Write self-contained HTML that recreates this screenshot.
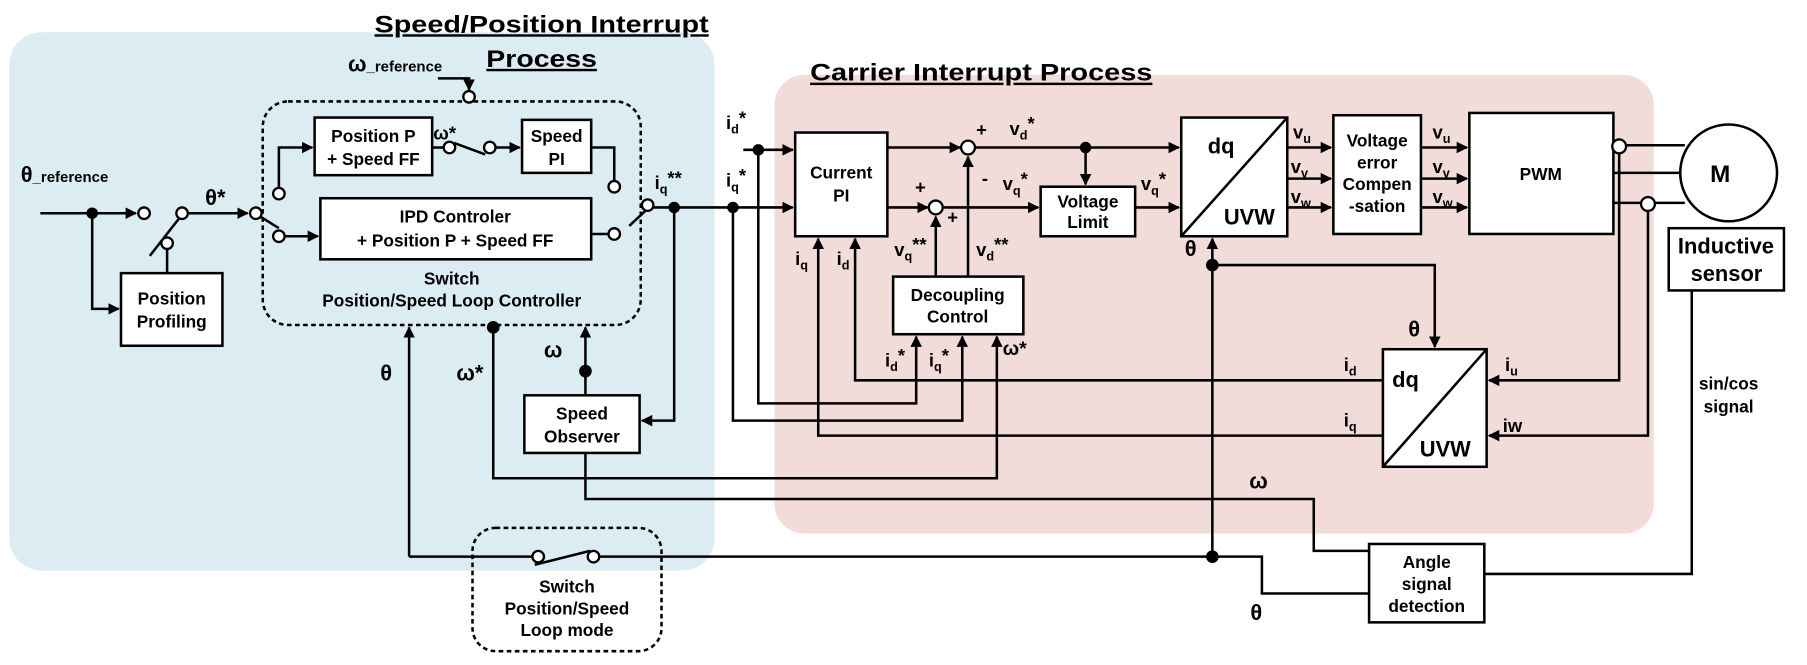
<!DOCTYPE html>
<html><head><meta charset="utf-8"><style>
html,body{margin:0;padding:0;background:#fff;}
svg{display:block;}
text{font-family:"Liberation Sans",sans-serif;font-weight:bold;fill:#000;}
</style></head><body>
<svg width="1807" height="665" viewBox="0 0 1568 577" preserveAspectRatio="none" xmlns="http://www.w3.org/2000/svg">
<defs>
<marker id="a" markerWidth="10" markerHeight="10" refX="9" refY="5" orient="auto" markerUnits="userSpaceOnUse"><path d="M0,0 L10,5 L0,10 Z" fill="#000"/></marker>
</defs>
<!-- backgrounds -->
<rect x="8" y="28" width="612" height="467" rx="28" fill="#dbecf2"/>
<rect x="672" y="65" width="763" height="398" rx="26" fill="#f2dcda"/>
<!-- titles -->
<text x="325" y="28" font-size="21" textLength="290" lengthAdjust="spacingAndGlyphs" text-decoration="underline">Speed/Position Interrupt</text>
<text x="422" y="58" font-size="21" textLength="96" lengthAdjust="spacingAndGlyphs" text-decoration="underline">Process</text>
<text x="703" y="70" font-size="21" textLength="297" lengthAdjust="spacingAndGlyphs" text-decoration="underline">Carrier Interrupt Process</text>

<g stroke="#000" stroke-width="2.2" fill="none">
<!-- dashed boxes -->
<rect x="228" y="88" width="328" height="194" rx="22" stroke-dasharray="4,3"/>
<rect x="410" y="458" width="164" height="107" rx="20" stroke-dasharray="4,3"/>
<!-- blocks -->
<rect x="105" y="237" width="88" height="63" fill="#fff"/>
<rect x="273" y="102" width="102" height="50" fill="#fff"/>
<rect x="453" y="104" width="60" height="46" fill="#fff"/>
<rect x="278" y="172" width="235" height="53" fill="#fff"/>
<rect x="455" y="343" width="100" height="50" fill="#fff"/>
<rect x="690" y="115" width="80" height="90" fill="#fff"/>
<rect x="903" y="162" width="82" height="43" fill="#fff"/>
<rect x="775" y="240" width="113" height="50" fill="#fff"/>
<rect x="1025" y="102" width="92" height="103" fill="#fff"/>
<line x1="1025" y1="205" x2="1117" y2="102"/>
<rect x="1157" y="100" width="76" height="103" fill="#fff"/>
<rect x="1275" y="98" width="125" height="105" fill="#fff"/>
<circle cx="1500" cy="150" r="42" fill="#fff"/>
<rect x="1448" y="198" width="100" height="54" fill="#fff"/>
<rect x="1200" y="303" width="90" height="102" fill="#fff"/>
<line x1="1200" y1="405" x2="1290" y2="303"/>
<rect x="1188" y="472" width="100" height="68" fill="#fff"/>

<!-- theta ref input -->
<line x1="35" y1="185" x2="118" y2="185" marker-end="url(#a)"/>
<polyline points="80,185 80,268 103,268" marker-end="url(#a)"/>
<line x1="145" y1="237" x2="145" y2="216"/>
<line x1="130" y1="222" x2="155" y2="190"/>
<line x1="164" y1="185" x2="215" y2="185" marker-end="url(#a)"/>
<line x1="226" y1="188" x2="242" y2="198"/>
<polyline points="242,163 242,128 271,128" marker-end="url(#a)"/>
<line x1="247" y1="205" x2="276" y2="205" marker-end="url(#a)"/>
<line x1="375" y1="128" x2="385" y2="128"/>
<line x1="394" y1="124" x2="421" y2="134"/>
<line x1="430" y1="128" x2="451" y2="128" marker-end="url(#a)"/>
<polyline points="380,68 407,68 407,78" marker-end="url(#a)"/>
<polyline points="513,128 533,128 533,157"/>
<line x1="513" y1="203" x2="528" y2="203"/>
<line x1="546" y1="196" x2="560" y2="183"/>
<line x1="567" y1="180" x2="688" y2="180" marker-end="url(#a)"/>
<polyline points="585,180 585,365 557,365" marker-end="url(#a)"/>
<line x1="645" y1="130" x2="688" y2="130" marker-end="url(#a)"/>
<!-- feedback to dashed box -->
<line x1="355" y1="483" x2="355" y2="284" marker-end="url(#a)"/>
<polyline points="355,483 462,483"/>
<line x1="464" y1="490" x2="512" y2="478"/>
<polyline points="520,483 1095,483 1095,515 1188,515"/>
<polyline points="428,283 428,415 865,415 865,292" marker-end="url(#a)"/>
<line x1="508" y1="343" x2="508" y2="284" marker-end="url(#a)"/>
<polyline points="508,393 508,433 1140,433 1140,478 1188,478"/>
<!-- current loop -->
<polyline points="658,130 658,350 795,350 795,292" marker-end="url(#a)"/>
<polyline points="636,180 636,365 835,365 835,292" marker-end="url(#a)"/>
<line x1="770" y1="128" x2="833" y2="128" marker-end="url(#a)"/>
<line x1="846" y1="128" x2="1023" y2="128" marker-end="url(#a)"/>
<line x1="942" y1="128" x2="942" y2="160" marker-end="url(#a)"/>
<line x1="770" y1="180" x2="805" y2="180" marker-end="url(#a)"/>
<line x1="818" y1="180" x2="901" y2="180" marker-end="url(#a)"/>
<line x1="985" y1="180" x2="1023" y2="180" marker-end="url(#a)"/>
<line x1="812" y1="240" x2="812" y2="188" marker-end="url(#a)"/>
<line x1="840" y1="240" x2="840" y2="136" marker-end="url(#a)"/>
<polyline points="1200,330 742,330 742,207" marker-end="url(#a)"/>
<polyline points="1200,378 710,378 710,207" marker-end="url(#a)"/>
<line x1="1117" y1="128" x2="1155" y2="128" marker-end="url(#a)"/>
<line x1="1117" y1="155" x2="1155" y2="155" marker-end="url(#a)"/>
<line x1="1117" y1="180" x2="1155" y2="180" marker-end="url(#a)"/>
<line x1="1233" y1="128" x2="1273" y2="128" marker-end="url(#a)"/>
<line x1="1233" y1="155" x2="1273" y2="155" marker-end="url(#a)"/>
<line x1="1233" y1="180" x2="1273" y2="180" marker-end="url(#a)"/>
<line x1="1400" y1="126" x2="1462" y2="126"/>
<line x1="1400" y1="150" x2="1458" y2="150"/>
<line x1="1400" y1="176" x2="1462" y2="176"/>
<polyline points="1405,132 1405,330 1292,330" marker-end="url(#a)"/>
<polyline points="1430,182 1430,378 1292,378" marker-end="url(#a)"/>
<line x1="1052" y1="483" x2="1052" y2="207" marker-end="url(#a)"/>
<polyline points="1052,230 1245,230 1245,301" marker-end="url(#a)"/>
<polyline points="1468,252 1468,498 1288,498"/>
</g>
<!-- small open circles -->
<g stroke="#000" stroke-width="2" fill="#fff">
<circle cx="125" cy="185" r="5"/><circle cx="158" cy="185" r="5"/><circle cx="145" cy="211" r="5"/>
<circle cx="222" cy="185" r="5"/><circle cx="242" cy="168" r="5"/><circle cx="242" cy="205" r="5"/>
<circle cx="390" cy="128" r="5"/><circle cx="425" cy="128" r="5"/><circle cx="407" cy="84" r="5"/>
<circle cx="533" cy="162" r="5"/><circle cx="533" cy="203" r="5"/><circle cx="562" cy="178" r="5"/>
<circle cx="467" cy="483" r="5"/><circle cx="515" cy="483" r="5"/>
<circle cx="840" cy="128" r="6"/><circle cx="812" cy="180" r="6"/>
<circle cx="1405" cy="127" r="6"/><circle cx="1430" cy="177" r="6"/>
</g>
<!-- dots -->
<g fill="#000">
<circle cx="80" cy="185" r="5"/><circle cx="585" cy="180" r="5"/><circle cx="636" cy="180" r="5"/>
<circle cx="658" cy="130" r="5"/><circle cx="942" cy="128" r="5"/><circle cx="428" cy="284" r="5.5"/>
<circle cx="508" cy="322" r="5.5"/><circle cx="1052" cy="230" r="5.5"/><circle cx="1052" cy="483" r="5.5"/>
</g>
<!-- texts -->
<g font-size="15" text-anchor="middle">
<text x="149" y="264">Position</text><text x="149" y="284">Profiling</text>
<text x="324" y="123">Position P</text><text x="324" y="143">+ Speed FF</text>
<text x="483" y="123">Speed</text><text x="483" y="143">PI</text>
<text x="395" y="193">IPD Controler</text><text x="395" y="214">+ Position P + Speed FF</text>
<text x="392" y="247">Switch</text><text x="392" y="266">Position/Speed Loop Controller</text>
<text x="505" y="364">Speed</text><text x="505" y="384">Observer</text>
<text x="730" y="155">Current</text><text x="730" y="175">PI</text>
<text x="944" y="180">Voltage</text><text x="944" y="198">Limit</text>
<text x="831" y="261">Decoupling</text><text x="831" y="280">Control</text>
<text x="1195" y="127">Voltage</text><text x="1195" y="146">error</text><text x="1195" y="165">Compen</text><text x="1195" y="184">-sation</text>
<text x="1337" y="156">PWM</text>
<text x="1238" y="493">Angle</text><text x="1238" y="512">signal</text><text x="1238" y="531">detection</text>
<text x="492" y="514">Switch</text><text x="492" y="533">Position/Speed</text><text x="492" y="552">Loop mode</text>
<text x="1500" y="338" font-weight="normal">sin/cos</text><text x="1500" y="358" font-weight="normal">signal</text>
</g>
<g font-size="19">
<text x="1048" y="133">dq</text><text x="1062" y="195">UVW</text>
<text x="1208" y="336">dq</text><text x="1232" y="396">UVW</text>
<text x="1484" y="158" font-size="21">M</text>
<text x="1456" y="220">Inductive</text><text x="1467" y="244">sensor</text>
<text x="18" y="158">θ<tspan font-size="13">_reference</tspan></text>
<text x="302" y="62">ω<tspan font-size="13">_reference</tspan></text>
<text x="178" y="178">θ*</text>
<text x="376" y="121" font-size="16">ω*</text>
<text x="568" y="164" font-size="16">i<tspan font-size="11" dy="4">q</tspan><tspan dy="-8">**</tspan></text>
<text x="630" y="112" font-size="16">i<tspan font-size="11" dy="4">d</tspan><tspan dy="-8">*</tspan></text>
<text x="630" y="162" font-size="16">i<tspan font-size="11" dy="4">q</tspan><tspan dy="-8">*</tspan></text>
<text x="330" y="330">θ</text><text x="396" y="330">ω*</text><text x="472" y="310">ω</text>
<text x="847" y="118" font-size="16">+</text><text x="876" y="117" font-size="16">v<tspan font-size="11" dy="4">d</tspan><tspan dy="-8">*</tspan></text>
<text x="794" y="168" font-size="16">+</text><text x="852" y="160" font-size="16">-</text><text x="822" y="194" font-size="16">+</text>
<text x="870" y="165" font-size="16">v<tspan font-size="11" dy="4">q</tspan><tspan dy="-8">*</tspan></text>
<text x="990" y="165" font-size="16">v<tspan font-size="11" dy="4">q</tspan><tspan dy="-8">*</tspan></text>
<text x="776" y="222" font-size="16">v<tspan font-size="11" dy="4">q</tspan><tspan dy="-8">**</tspan></text>
<text x="847" y="222" font-size="16">v<tspan font-size="11" dy="4">d</tspan><tspan dy="-8">**</tspan></text>
<text x="690" y="230" font-size="16">i<tspan font-size="11" dy="4">q</tspan></text>
<text x="726" y="230" font-size="16">i<tspan font-size="11" dy="4">d</tspan></text>
<text x="768" y="318" font-size="16">i<tspan font-size="11" dy="4">d</tspan><tspan dy="-8">*</tspan></text>
<text x="806" y="318" font-size="16">i<tspan font-size="11" dy="4">q</tspan><tspan dy="-8">*</tspan></text>
<text x="870" y="308" font-size="17">ω*</text>
<text x="1122" y="120" font-size="16">v<tspan font-size="11" dy="4">u</tspan></text>
<text x="1120" y="150" font-size="16">v<tspan font-size="11" dy="4">v</tspan></text>
<text x="1120" y="176" font-size="16">v<tspan font-size="11" dy="4">w</tspan></text>
<text x="1243" y="120" font-size="16">v<tspan font-size="11" dy="4">u</tspan></text>
<text x="1243" y="150" font-size="16">v<tspan font-size="11" dy="4">v</tspan></text>
<text x="1243" y="176" font-size="16">v<tspan font-size="11" dy="4">w</tspan></text>
<text x="1028" y="222">θ</text><text x="1222" y="292">θ</text>
<text x="1166" y="322" font-size="16">i<tspan font-size="11" dy="4">d</tspan></text>
<text x="1166" y="370" font-size="16">i<tspan font-size="11" dy="4">q</tspan></text>
<text x="1306" y="322" font-size="16">i<tspan font-size="11" dy="4">u</tspan></text>
<text x="1304" y="375" font-size="16" font-weight="normal">iw</text>
<text x="1084" y="424">ω</text><text x="1085" y="538">θ</text>
</g>
</svg>
</body></html>
